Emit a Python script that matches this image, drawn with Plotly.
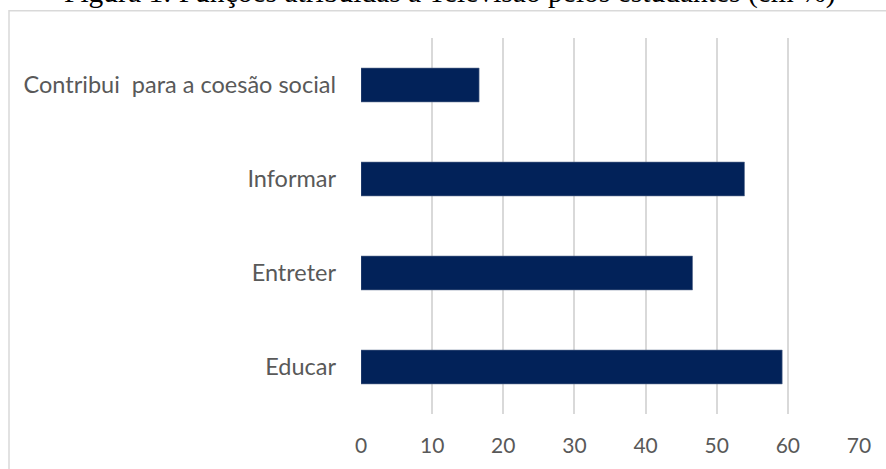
import plotly.graph_objects as go

categories = ["Educar", "Entreter", "Informar", "Contribui\u00a0 para a coesão social"]
values = [59.2, 46.6, 53.9, 16.6]
x_ticks = [0, 10, 20, 30, 40, 50, 60, 70]
title_text = "Figura 1: Funções atribuídas à Televisão pelos estudantes (em %)"

W, H = 886, 469
L, R, T, B = 361, 27, 38, 51
pw, ph = W - L - R, H - T - B

def px_x(p):
    return (p - L) / pw

def px_y(p):
    return 1 + (T - p) / ph

fig = go.Figure(go.Bar(
    x=values, y=categories, orientation="h",
    marker=dict(color="#022259", line=dict(color="#5b6b8f", width=0.6)),
    width=0.36,
))

fig.update_layout(
    width=W, height=H,
    margin=dict(l=L, r=R, t=T, b=B),
    paper_bgcolor="white", plot_bgcolor="white",
    showlegend=False,
    font=dict(family="Lato, 'Open Sans', sans-serif", size=23, color="#595959"),
)
fig.update_xaxes(
    range=[0, 70], tickvals=x_ticks, showgrid=True, gridcolor="#d9d9d9", gridwidth=2,
    zeroline=False, showline=False, ticks="", ticklabelstandoff=17,
    tickfont=dict(size=21, color="#595959"), fixedrange=True,
)
fig.update_yaxes(
    showgrid=False, zeroline=False, showline=False, ticks="",
    ticklabelstandoff=24, tickfont=dict(size=23.5, color="#595959"),
    categoryorder="array", categoryarray=categories, fixedrange=True,
)

# outer chart border (partially outside the visible window)
fig.add_shape(type="rect", xref="paper", yref="paper",
              x0=px_x(9), x1=px_x(W + 20), y0=px_y(H + 20), y1=px_y(10.5),
              line=dict(color="#d9d9d9", width=1.5), fillcolor="rgba(0,0,0,0)", layer="below")

fig.add_annotation(text=title_text, xref="paper", yref="paper",
                   x=px_x(450), y=px_y(-8), xanchor="center", yanchor="middle",
                   showarrow=False,
                   font=dict(family="'Liberation Serif', 'Times New Roman', serif", size=29.5, color="black"))

fig.write_html("out.html", config={"displayModeBar": False},
               post_script="document.body.style.margin='0';document.body.style.padding='0';")
